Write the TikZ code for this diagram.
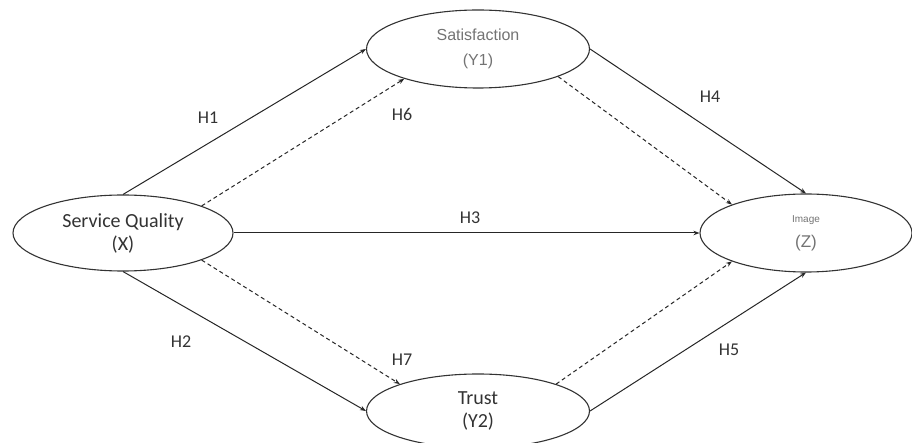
\documentclass[tikz,border=0pt]{standalone}
\usepackage{fontspec}
\setmainfont{Carlito}
\newfontfamily\arialfont{Liberation Sans}
\usetikzlibrary{shapes.geometric,arrows.meta}

\begin{document}
\begin{tikzpicture}[x=1pt,y=-1pt,
  construct/.style={draw=black!80, ellipse, line width=1.1pt, inner sep=0pt, align=center, text=black!80, font=\fontsize{20}{23}\selectfont},
  hyp/.style={text=black!80, font=\fontsize{18}{20}\selectfont},
  link/.style={draw=black!85, line width=1pt, -{Stealth[length=6pt,width=4.5pt]}},
  indlink/.style={link, dash pattern=on 4pt off 3pt}]
\useasboundingbox (0,0) rectangle (912,443);

\node[construct, minimum width=220pt, minimum height=76pt] (sq) at (123,233) {Service Quality\\(X)};
\node[construct, minimum width=223pt, minimum height=78pt, text=black!55, font=\arialfont\fontsize{16}{25}\selectfont] (sat) at (478,49) {Satisfaction\\(Y1)};
\node[construct, minimum width=223pt, minimum height=74pt] (trust) at (478,411) {Trust\\(Y2)};
\node[construct, minimum width=212pt, minimum height=78pt, text=black!55, font=\arialfont\fontsize{17}{20}\selectfont] (img) at (806,233) {{\fontsize{10}{12}\selectfont Image}\\[5pt](Z)};

\draw[link] (sq.north) -- (sat.west);
\draw[link] (sq.east) -- (img.west);
\draw[link] (sq.south) -- (trust.west);
\draw[link] (sat.east) -- (img.north);
\draw[link] (trust.east) -- (img.south);

\draw[indlink] (sq.19) -- (sat.202);
\draw[indlink] (sq.-19) -- (trust.161);
\draw[indlink] (sat.-19) -- (img.159);
\draw[indlink] (trust.19) -- (img.201);

\node[hyp] (h1) at (208,118) {H1};
\node[hyp] (h2) at (181,342) {H2};
\node[hyp] (h3) at (470,218) {H3};
\node[hyp] (h4) at (710,97) {H4};
\node[hyp] (h5) at (729,350) {H5};
\node[hyp] (h6) at (402,114) {H6};
\node[hyp] (h7) at (402,360) {H7};
\end{tikzpicture}
\end{document}
